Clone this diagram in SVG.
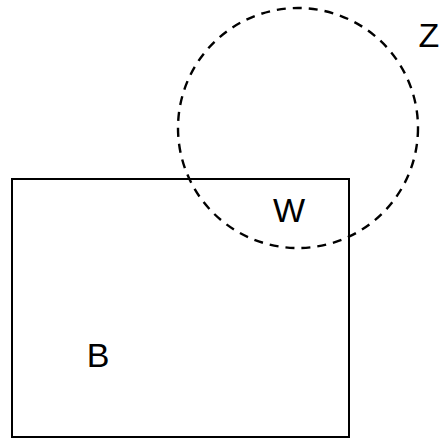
<svg xmlns="http://www.w3.org/2000/svg" width="441" height="439" viewBox="0 0 441 439">
<style>
.lbl{font-family:"Liberation Sans","DejaVu Sans",sans-serif;font-size:34px;fill:#000;text-anchor:middle}
.shape{fill:none;stroke:#000;stroke-width:2}
.dash{fill:none;stroke:#000;stroke-width:2.4;stroke-dasharray:9 7}
</style>
<rect width="441" height="439" fill="#fff"/>
<g id="B">
<rect class="shape" x="12" y="179" width="337" height="258"/>
<text class="lbl" x="98" y="367">B</text>
</g>
<g id="Z">
<circle class="dash" cx="298" cy="128" r="120"/>
<text class="lbl" x="429" y="47">Z</text>
</g>
<g id="W">
<text class="lbl" x="289" y="222">W</text>
</g>
<g id="connectors"></g>
</svg>
